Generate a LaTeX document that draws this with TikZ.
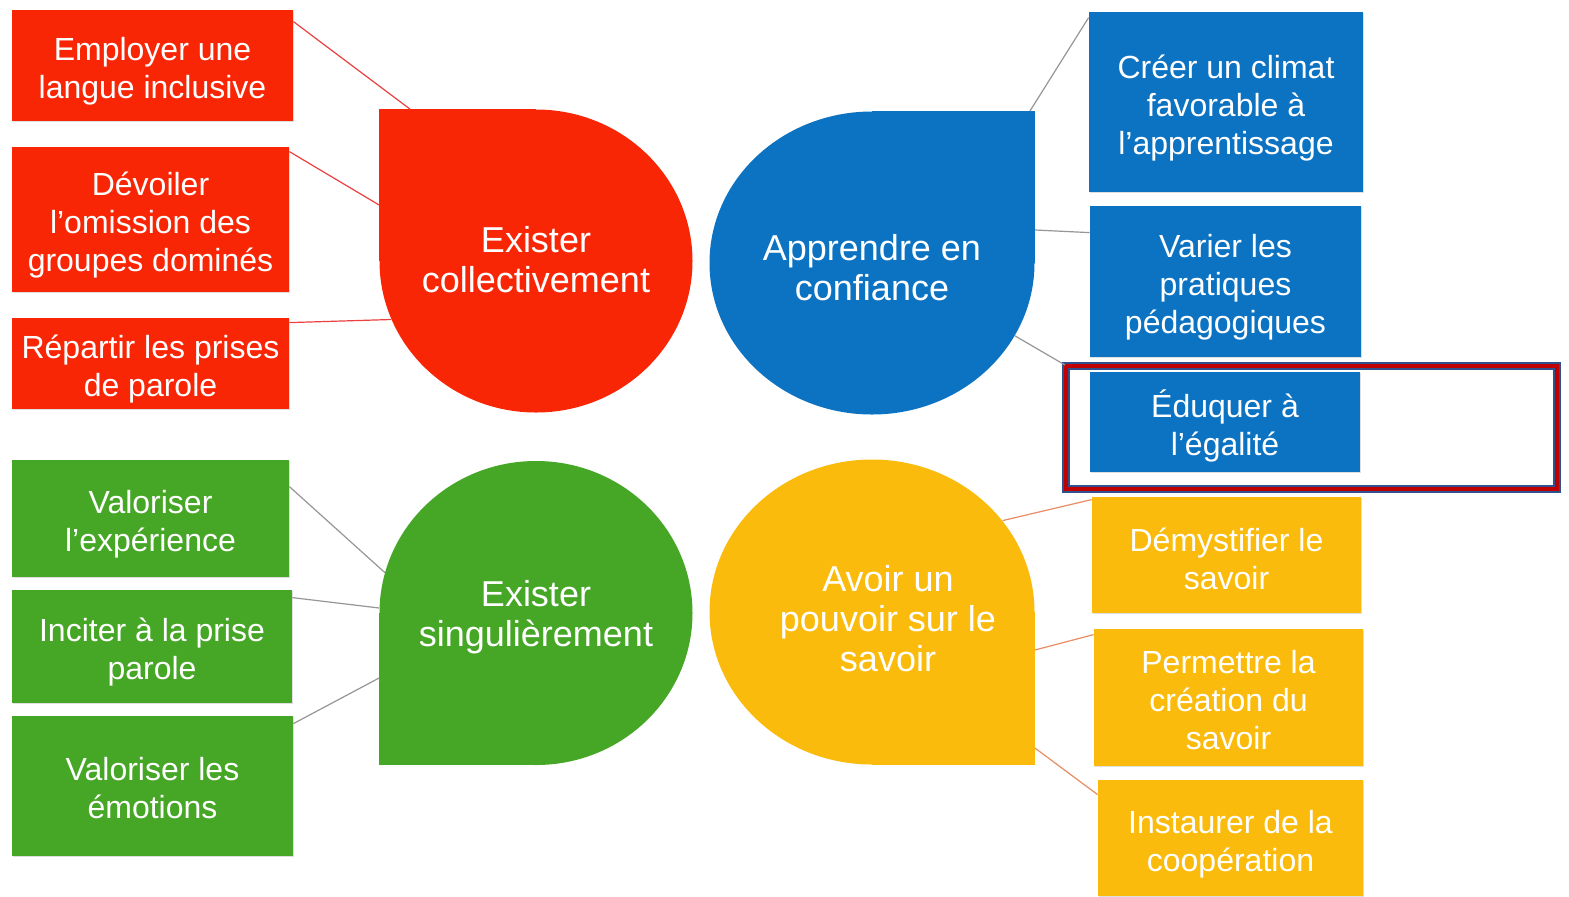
\documentclass[tikz,border=0pt]{standalone}
\usepackage{fontspec}
\setmainfont{Liberation Sans}
\usetikzlibrary{
  shapes.geometric,
  shadows,
  backgrounds,
  calc
}
\definecolor{keyred}{RGB}{249,38,6}
\definecolor{keyblue}{RGB}{12,114,194}
\definecolor{keygreen}{RGB}{70,166,38}
\definecolor{keyyellow}{RGB}{251,187,12}
\definecolor{linkred}{RGB}{236,64,64}
\definecolor{linkgray}{RGB}{150,150,150}
\definecolor{linkorange}{RGB}{232,140,100}
\definecolor{framenavy}{RGB}{47,82,143}
\definecolor{framered}{RGB}{192,0,0}
\newcommand\lines[2][3pt]{\raisebox{-#1}[\height][\depth]{\begin{tabular}{@{}c@{}}#2\end{tabular}}}

\begin{document}
\begin{tikzpicture}[
      x=0.5pt,y=-0.5pt,
      item/.style={
         rectangle,
         fill=#1,
         inner sep=2pt,
         text=white,
         font=\fontsize{16}{19}\selectfont,
         drop shadow={shadow xshift=0.5pt,shadow yshift=-0.7pt,opacity=0.25}
      },
      petal/.style={
         ellipse,
         fill=#1,
         inner sep=-6pt,
         text=white,
         font=\fontsize{18}{20}\selectfont
      },
      link/.style={draw=#1, line width=0.6pt},
      focus/.style={
         rectangle,
         draw=framenavy,line width=1pt,
         double=framered,double distance=2pt
      }
    ]
    \useasboundingbox (0,0) rectangle (1569,896);
    % petals
    \node (p1) [petal=keyred, minimum width=156.5pt, minimum height=151.5pt] at (536,261) {\lines[1.5pt]{Exister\\collectivement}};
    \node (p2) [petal=keyblue, minimum width=162.5pt, minimum height=151.5pt] at (872,263) {\lines[4.5pt]{Apprendre en\\confiance}};
    \node (p3) [petal=keygreen, minimum width=156.5pt, minimum height=152pt] at (536,613) {\lines[2.5pt]{Exister\\singulièrement}};
    \node (p4) [petal=keyyellow, minimum width=162.5pt, minimum height=152.5pt] at (872,612) {\hspace*{16pt}\lines[5.5pt]{Avoir un\\pouvoir sur le\\savoir}};
    \begin{scope}[on background layer]
       \fill[white] (0,0) rectangle (1569,896);
       \fill[keyred] (p1.center) rectangle (p1.north -| p1.west);
       \fill[keyblue] (p2.center) rectangle (p2.north -| p2.east);
       \fill[keygreen] (p3.center) rectangle (p3.south -| p3.west);
       \fill[keyyellow] (p4.center) rectangle (p4.south -| p4.east);
    \end{scope}
    % left column
    \node (n11) [item=keyred, minimum width=140.5pt, minimum height=55.5pt] at (152.5,65.5) {\lines{Employer une\\langue inclusive}};
    \node (n12) [item=keyred, minimum width=138.5pt, minimum height=72.5pt] at (150.5,219.5) {\lines{Dévoiler\\l’omission des\\groupes dominés}};
    \node (n13) [item=keyred, minimum width=138.5pt, minimum height=45.5pt] at (150.5,363.5) {\lines{Répartir les prises\\de parole}};
    \node (n31) [item=keygreen, minimum width=138.5pt, minimum height=58.5pt] at (150.5,518.5) {\lines{Valoriser\\l’expérience}};
    \node (n32) [item=keygreen, minimum width=140pt, minimum height=56.5pt] at (152,646.5) {\lines{Inciter à la prise\\parole}};
    \node (n33) [item=keygreen, minimum width=140.5pt, minimum height=70pt] at (152.5,786) {\lines{Valoriser les\\émotions}};
    % right column
    \node (n21) [item=keyblue, minimum width=137pt, minimum height=90pt] at (1226,102) {\lines[3.5pt]{Créer un climat\\favorable à\\l’apprentissage}};
    \node (n22) [item=keyblue, minimum width=135.5pt, minimum height=75.5pt] at (1225.5,281.5) {\lines{Varier les\\pratiques\\pédagogiques}};
    \node (n23) [item=keyblue, minimum width=135pt, minimum height=50pt] at (1225,422) {\lines{Éduquer à\\l’égalité}};
    \node (n41) [item=keyyellow, minimum width=134.5pt, minimum height=58pt] at (1226.5,555) {\lines[4pt]{Démystifier le\\savoir}};
    \node (n42) [item=keyyellow, minimum width=134.5pt, minimum height=68.5pt] at (1228.5,697.5) {\lines{Permettre la\\création du\\savoir}};
    \node (n43) [item=keyyellow, minimum width=132.5pt, minimum height=58pt] at (1230.5,838) {\lines[3.5pt]{Instaurer de la\\coopération}};
    \node (hl) [focus, minimum width=245.5pt, minimum height=61.5pt] at (1311.5,427.5) {};
    % links
    \draw[link=linkred] ($(n11.north east)+(0,12)$) -- ($(p1.north)+(-126,0)$);
    \draw[link=linkred] ($(n12.north east)+(0,5)$) -- ($(p1.west)+(0,-56)$);
    \draw[link=linkred] ($(n13.north east)+(0,5)$) -- (p1.202);
    \draw[link=linkgray] ($(n21.north west)+(0,6)$) -- ($(p2.north -| p2.east)+(-5,0)$);
    \draw[link=linkgray] ($(n22.north west)+(0,27)$) -- ($(p2.east)+(0,-33)$);
    \draw[link=linkgray] (p2.-27) -- (hl.north west);
    \draw[link=linkgray] ($(n31.north east)+(0,27)$) -- (p3.165);
    \draw[link=linkgray] ($(n32.north east)+(0,8)$) -- ($(p3.west)+(0,-5)$);
    \draw[link=linkgray] ($(n33.north east)+(0,8)$) -- ($(p3.west)+(0,65)$);
    \draw[link=linkorange] (p4.35) -- ($(n41.north west)+(0,3)$);
    \draw[link=linkorange] ($(p4.east)+(0,38)$) -- ($(n42.north west)+(0,6)$);
    \draw[link=linkorange] ($(p4.east)+(0,136)$) -- ($(n43.north west)+(0,15)$);
\end{tikzpicture}
\end{document}
